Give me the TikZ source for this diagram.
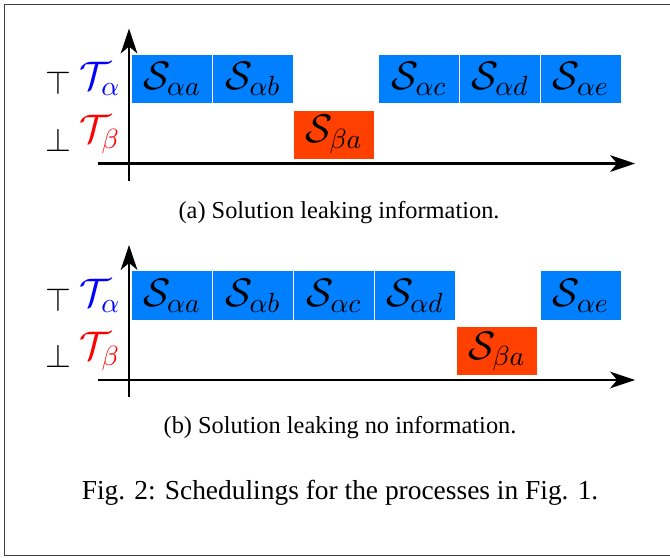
\documentclass[tikz,border=0pt]{standalone}
\usepackage{fontspec}
\setmainfont{Liberation Serif}
\usetikzlibrary{arrows.meta}
\definecolor{slotblue}{RGB}{0,128,255}
\definecolor{slotred}{RGB}{255,64,0}
\tikzset{
  slot/.style={draw=white, line width=0.36pt, minimum width=1.028cm, minimum height=0.622cm, inner sep=0pt, font=\Large},
  hi/.style={slot, fill=slotblue},
  lo/.style={slot, fill=slotred},
  lvl/.style={font=\large, inner sep=0pt},
  task/.style={font=\Large, inner sep=0pt},
  axis/.style={line width=0.8pt, -{Stealth[length=9pt, width=6pt, inset=2.5pt]}},
  subcap/.style={font=\fontsize{8.8}{10}\selectfont},
  figcap/.style={font=\fontsize{9.9}{12}\selectfont}
}

\begin{document}
\begin{tikzpicture}
  \useasboundingbox (0,0) rectangle (8.5,7.067);
  \draw[black!75, line width=0.5pt] (0.057,0.0165) rectangle (8.8,7.01);

  % (a) leaking
  \begin{scope}[shift={(1.637,4.992)}]
    \coordinate (a_x0) at (-0.393,0);
    \coordinate (a_x1) at (6.42,0);
    \coordinate (a_y0) at (0,-0.216);
    \coordinate (a_y1) at (0,1.713);
    \node[lvl] at (-0.89,1.02) (a_top) {$\top$};
    \node[task, text=blue] at (-0.368,1.072) (a_Ta) {$\mathcal{T}_\alpha$};
    \node[lvl] at (-0.89,0.30) (a_bot) {$\bot$};
    \node[task, text=red] at (-0.368,0.362) (a_Tb) {$\mathcal{T}_\beta$};
    \node[hi] at (0.546,1.072) (a_aa) {$\mathcal{S}_{\alpha a}$};
    \node[hi] at (1.573,1.072) (a_ab) {$\mathcal{S}_{\alpha b}$};
    \node[lo] at (2.601,0.362) (a_ba) {$\mathcal{S}_{\beta a}$};
    \node[hi] at (3.679,1.072) (a_ac) {$\mathcal{S}_{\alpha c}$};
    \node[hi] at (4.707,1.072) (a_ad) {$\mathcal{S}_{\alpha d}$};
    \node[hi] at (5.735,1.072) (a_ae) {$\mathcal{S}_{\alpha e}$};
    \draw[axis] (a_x0) -- (a_x1);
    \draw[axis] (a_y0) -- (a_y1);
  \end{scope}
  \node[subcap] at (4.301,4.376) (cap_a) {(a) Solution leaking information.};

  % (b) not leaking
  \begin{scope}[shift={(1.637,2.246)}]
    \coordinate (b_x0) at (-0.393,0);
    \coordinate (b_x1) at (6.42,0);
    \coordinate (b_y0) at (0,-0.216);
    \coordinate (b_y1) at (0,1.713);
    \node[lvl] at (-0.89,1.02) (b_top) {$\top$};
    \node[task, text=blue] at (-0.368,1.072) (b_Ta) {$\mathcal{T}_\alpha$};
    \node[lvl] at (-0.89,0.30) (b_bot) {$\bot$};
    \node[task, text=red] at (-0.368,0.362) (b_Tb) {$\mathcal{T}_\beta$};
    \node[hi] at (0.546,1.072) (b_aa) {$\mathcal{S}_{\alpha a}$};
    \node[hi] at (1.573,1.072) (b_ab) {$\mathcal{S}_{\alpha b}$};
    \node[hi] at (2.601,1.072) (b_ac) {$\mathcal{S}_{\alpha c}$};
    \node[hi] at (3.629,1.072) (b_ad) {$\mathcal{S}_{\alpha d}$};
    \node[lo] at (4.669,0.362) (b_ba) {$\mathcal{S}_{\beta a}$};
    \node[hi] at (5.735,1.072) (b_ae) {$\mathcal{S}_{\alpha e}$};
    \draw[axis] (b_x0) -- (b_x1);
    \draw[axis] (b_y0) -- (b_y1);
  \end{scope}
  \node[subcap] at (4.314,1.638) (cap_b) {(b) Solution leaking no information.};

  \node[figcap] at (4.314,0.812) (cap_fig) {Fig. 2: Schedulings for the processes in Fig. 1.};
\end{tikzpicture}
\end{document}
